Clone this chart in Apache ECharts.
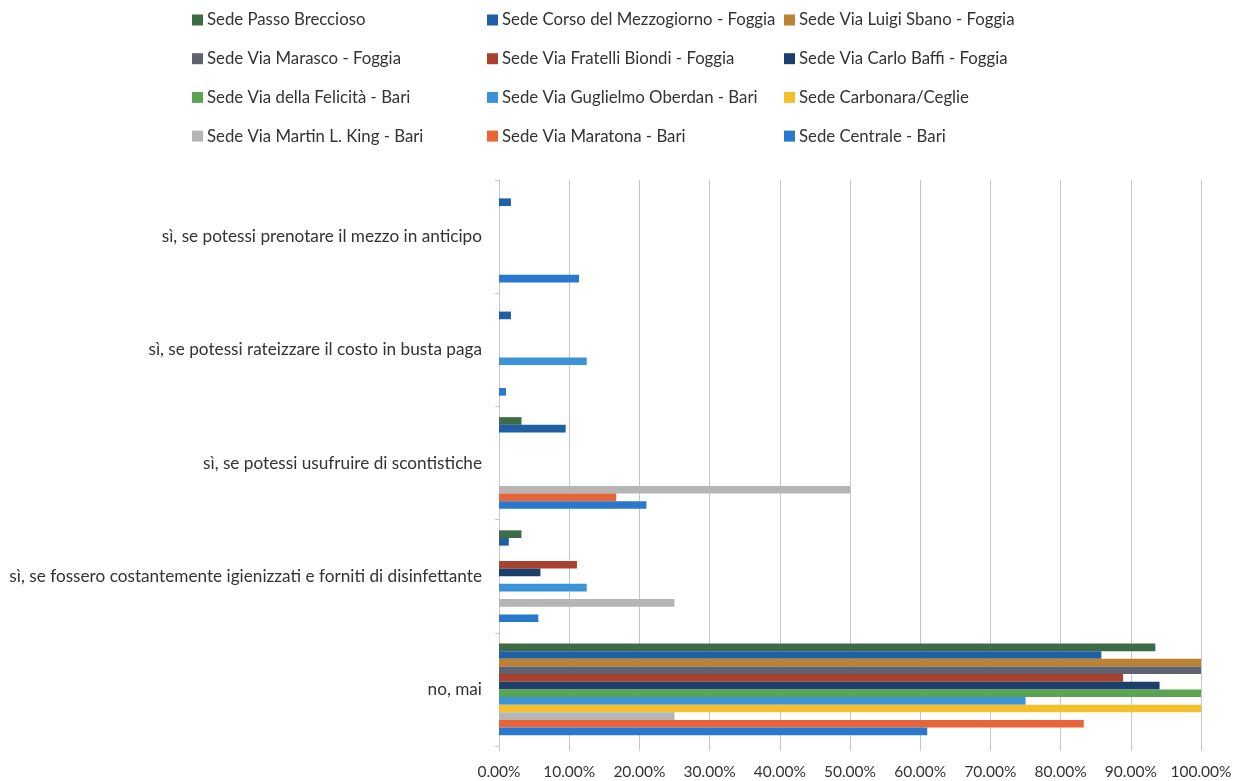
<!DOCTYPE html>
<html>
<head>
<meta charset="utf-8">
<script src="https://cdn.jsdelivr.net/npm/echarts@6/dist/echarts.min.js"></script>
<style>
  html, body { margin: 0; padding: 0; background: #fff; }
  #chart { width: 1241px; height: 781px; }
</style>
</head>
<body>
<div id="chart"></div>
<script>
// categorie, dal basso verso l'alto
var categories = [
  "no, mai",
  "sì, se fossero costantemente igienizzati e forniti di disinfettante",
  "sì, se potessi usufruire di scontistiche",
  "sì, se potessi rateizzare il costo in busta paga",
  "sì, se potessi prenotare il mezzo in anticipo"
];

var sedi = [
  "Sede Passo Breccioso",
  "Sede Corso del Mezzogiorno - Foggia",
  "Sede Via Luigi Sbano - Foggia",
  "Sede Via Marasco - Foggia",
  "Sede Via Fratelli Biondi - Foggia",
  "Sede Via Carlo Baffi - Foggia",
  "Sede Via della Felicità - Bari",
  "Sede Via Guglielmo Oberdan - Bari",
  "Sede Carbonara/Ceglie",
  "Sede Via Martin L. King - Bari",
  "Sede Via Maratona - Bari",
  "Sede Centrale - Bari"
];

// percentuali per sede, stesso ordine delle categorie
var passoBreccioso = [93.5, 3.2, 3.2, 0, 0];
var corsoMezzogiorno = [85.8, 1.4, 9.5, 1.7, 1.7];
var luigiSbano = [100, 0, 0, 0, 0];
var marasco = [100, 0, 0, 0, 0];
var fratelliBiondi = [88.9, 11.1, 0, 0, 0];
var carloBaffi = [94.1, 5.9, 0, 0, 0];
var felicita = [100, 0, 0, 0, 0];
var oberdan = [75, 12.5, 0, 12.5, 0];
var carbonara = [100, 0, 0, 0, 0];
var martinKing = [25, 25, 50, 0, 0];
var maratona = [83.3, 0, 16.7, 0, 0];
var centrale = [61, 5.6, 21, 1, 11.4];

var values = [passoBreccioso, corsoMezzogiorno, luigiSbano, marasco, fratelliBiondi,
  carloBaffi, felicita, oberdan, carbonara, martinKing, maratona, centrale];

var colors = ["#3c6b45", "#1f5fa4", "#bb8233", "#5f6270", "#a8412e", "#1d3f6c",
  "#5aa453", "#3b94d8", "#f5bf2c", "#b5b5b5", "#e8653a", "#2a78cb"];

var font = "Lato";

var chart = echarts.init(document.getElementById('chart'));

// legenda su tre colonne
function legendCol(names, left) {
  return {
    orient: "vertical",
    left: left,
    top: 10,
    padding: 0,
    icon: "rect",
    itemWidth: 11,
    itemHeight: 11,
    itemGap: 18.7,
    selectedMode: false,
    textStyle: { fontFamily: font, fontSize: 16.8, color: "#333", lineHeight: 20, padding: [0, 0, 0, -1] },
    data: names
  };
}

var series = sedi.map(function (name, i) {
  return {
    name: name,
    type: "bar",
    data: values[i],
    itemStyle: { color: colors[i] },
    barGap: "0%",
    barCategoryGap: "19%"
  };
});

chart.setOption({
  animation: false,
  color: colors,
  legend: [
    legendCol([sedi[0], sedi[3], sedi[6], sedi[9]], 192),
    legendCol([sedi[1], sedi[4], sedi[7], sedi[10]], 487),
    legendCol([sedi[2], sedi[5], sedi[8], sedi[11]], 784)
  ],
  grid: { left: 499, right: 40, top: 180, bottom: 35, containLabel: false },
  xAxis: {
    type: "value",
    min: 0,
    max: 100,
    interval: 10,
    axisLine: { show: false },
    axisTick: { show: true, length: 5, lineStyle: { color: "#c6c6c6" } },
    axisLabel: {
      fontFamily: font, fontSize: 15.5, color: "#333", margin: 18,
      formatter: function (v) { return v.toFixed(2) + "%"; }
    },
    splitLine: { show: true, lineStyle: { color: "#c6c6c6", width: 1 } }
  },
  yAxis: {
    type: "category",
    data: categories,
    axisLine: { show: true, lineStyle: { color: "#c6c6c6" } },
    axisTick: { show: true, length: 4, lineStyle: { color: "#c6c6c6" } },
    axisLabel: { fontFamily: font, fontSize: 17.2, color: "#333", margin: 17 }
  },
  series: series
});
</script>
</body>
</html>
